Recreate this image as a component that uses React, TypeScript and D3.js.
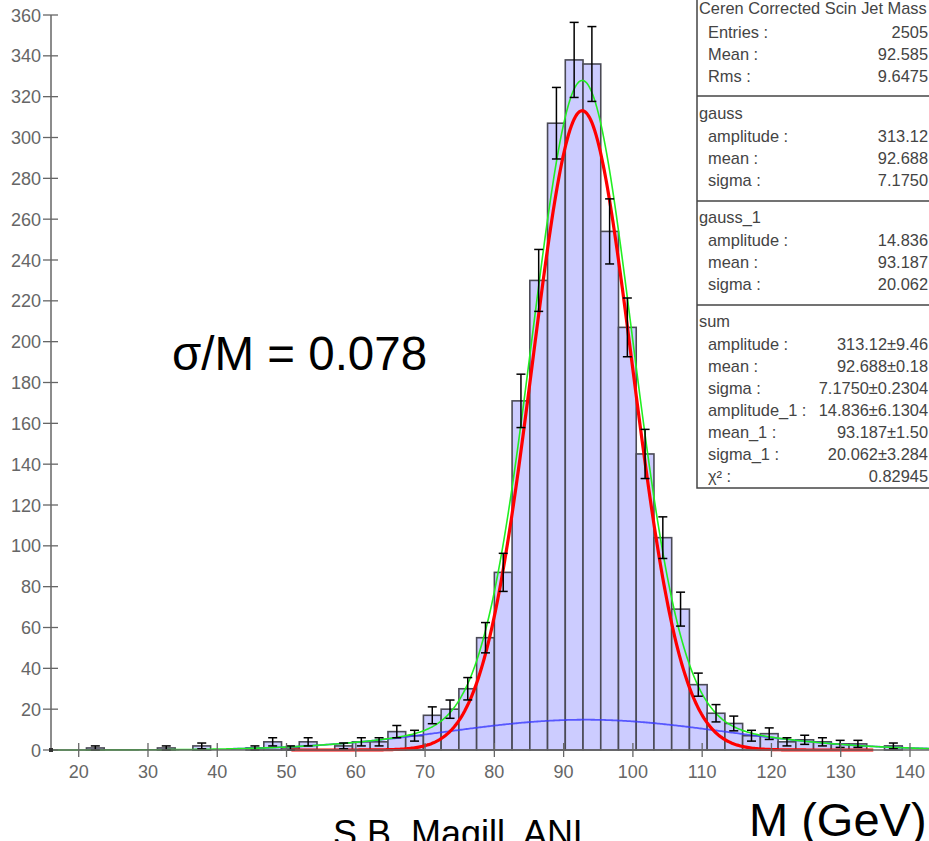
import React from "react";
import * as d3 from "d3";

const binLow = 16;
const binWidth = 2.56;
const counts = [
  0, 0, 1, 0, 0, 0, 1, 0, 2, 0,
  0, 1, 4, 1, 4, 0, 2, 4, 4, 9,
  7, 17, 20, 30, 55, 87, 171, 230, 307, 338,
  336, 254, 207, 145, 104, 69, 32, 18, 13, 7,
  8, 4, 5, 4, 3, 3, 0, 2, 0, 0,
];
const xTicks = [20, 30, 40, 50, 60, 70, 80, 90, 100, 110, 120, 130, 140];
const yTicks = [0, 20, 40, 60, 80, 100, 120, 140, 160, 180, 200, 220, 240, 260, 280, 300, 320, 340, 360];

// fit parameters (amplitude, mean, sigma)
const gaussParams = [313.12, 92.688, 7.175];
const gauss1Params = [14.836, 93.187, 20.062];
const redRange = [50.7, 134.7];
const blueRange = [42, 144];
const greenRange = [16, 144];

const statsTitle = "Ceren Corrected Scin Jet Mass";
const statsLabels1 = ["Entries :", "Mean :", "Rms :"];
const statsValues1 = ["2505", "92.585", "9.6475"];
const gaussLabels = ["amplitude :", "mean :", "sigma :"];
const gaussValues = ["313.12", "92.688", "7.1750"];
const gauss1Values = ["14.836", "93.187", "20.062"];
const sumLabels = ["amplitude :", "mean :", "sigma :", "amplitude_1 :", "mean_1 :", "sigma_1 :", "χ² :"];
const sumValues = ["313.12±9.46", "92.688±0.18", "7.1750±0.2304", "14.836±6.1304", "93.187±1.50", "20.062±3.284", "0.82945"];

const W = 929;
const H = 841;
const FONT = "'Liberation Sans', Arial, sans-serif";
const BOXFONT = 16.4;

function g(p: number[], x: number) {
  return p[0] * Math.exp(-((x - p[1]) ** 2) / (2 * p[2] * p[2]));
}

export default function App() {
  const x = d3.scaleLinear().domain([16, 144]).range([51, 937.7]);
  const y = d3.scaleLinear().domain([0, 360]).range([750, 15]);

  const sample = (r: number[], f: (v: number) => number) =>
    d3.range(r[0], r[1] + 0.001, 0.2).map((v) => [v, f(v)] as [number, number]);
  const line = d3
    .line<[number, number]>()
    .x((d) => x(d[0]))
    .y((d) => y(d[1]))
    .curve(d3.curveLinear);

  const red = line(sample(redRange, (v) => g(gaussParams, v))) || "";
  const blue = line(sample(blueRange, (v) => g(gauss1Params, v))) || "";
  const green = line(sample(greenRange, (v) => g(gaussParams, v) + g(gauss1Params, v))) || "";

  const bins = counts.map((c, i) => {
    const x0 = binLow + i * binWidth;
    return { x0, x1: x0 + binWidth, c };
  });

  const boxX = 697;
  const labelX = 708;
  const valueX = 928;
  const rowH = 22;

  const statRow = (label: string, value: string, yy: number, key: string) => (
    <g key={key}>
      <text x={labelX} y={yy} fontSize={BOXFONT} fill="#444" fontFamily={FONT}>{label}</text>
      <text x={valueX} y={yy} fontSize={BOXFONT} fill="#444" fontFamily={FONT} textAnchor="end">{value}</text>
    </g>
  );

  return (
    <svg width={W} height={H} style={{ position: "absolute", left: 0, top: 0, background: "#fff" }}>
      {/* bars */}
      {bins.map((b, i) =>
        b.c > 0 ? (
          <rect
            key={"b" + i}
            x={x(b.x0)}
            y={y(b.c)}
            width={x(b.x1) - x(b.x0)}
            height={y(0) - y(b.c)}
            fill="#ccccff"
            stroke="#4a4a55"
            strokeWidth={1.6}
          />
        ) : null
      )}
      {/* curves */}
      <path d={blue} fill="none" stroke="#3a3aff" strokeWidth={1.8} opacity={0.8} />
      <path d={red} fill="none" stroke="#ff0000" strokeWidth={3.2} />
      <path d={green} fill="none" stroke="#22ee22" strokeWidth={1.6} />
      {/* error bars */}
      {bins.map((b, i) => {
        if (b.c <= 0) return null;
        const e = Math.sqrt(b.c);
        const cx = x((b.x0 + b.x1) / 2);
        return (
          <g key={"e" + i} stroke="#000" strokeWidth={1.5}>
            <line x1={cx} x2={cx} y1={y(b.c + e)} y2={y(Math.max(0, b.c - e))} />
            <line x1={cx - 4.5} x2={cx + 4.5} y1={y(b.c + e)} y2={y(b.c + e)} />
            <line x1={cx - 4.5} x2={cx + 4.5} y1={y(Math.max(0, b.c - e))} y2={y(Math.max(0, b.c - e))} />
          </g>
        );
      })}
      {/* y axis */}
      <line x1={51} x2={51} y1={y(360)} y2={y(0)} stroke="#666" strokeWidth={1.5} />
      {yTicks.map((t) => (
        <g key={"y" + t}>
          <line x1={43} x2={58} y1={y(t)} y2={y(t)} stroke="#666" strokeWidth={1.3} />
          <text x={41} y={y(t) + 6.5} textAnchor="end" fontSize={18} fill="#666" fontFamily={FONT}>{t}</text>
        </g>
      ))}
      {/* x axis */}
      <line x1={51} x2={W} y1={y(0)} y2={y(0)} stroke="#666" strokeWidth={1.5} />
      {xTicks.map((t) => (
        <g key={"x" + t}>
          <line x1={x(t)} x2={x(t)} y1={743} y2={757} stroke="#666" strokeWidth={1.3} />
          <text x={x(t)} y={778} textAnchor="middle" fontSize={18} fill="#666" fontFamily={FONT}>{t}</text>
        </g>
      ))}
      <rect x={49} y={748} width={4} height={4} fill="#333" />

      {/* annotations */}
      <text x={172} y={370} fontSize={47.5} fill="#000" fontFamily={FONT}>σ/M = 0.078</text>
      <text x={749} y={836} fontSize={47} fill="#000" fontFamily={FONT}>M (GeV)</text>
      <text x={333} y={846} fontSize={36} fill="#000" fontFamily={FONT}>S.B. Magill, ANL</text>

      {/* stats box */}
      <rect x={boxX} y={-2} width={240} height={490} fill="#fff" stroke="#444" strokeWidth={1.5} />
      <line x1={boxX} x2={W} y1={96} y2={96} stroke="#444" strokeWidth={1.5} />
      <line x1={boxX} x2={W} y1={201} y2={201} stroke="#444" strokeWidth={1.5} />
      <line x1={boxX} x2={W} y1={305} y2={305} stroke="#444" strokeWidth={1.5} />
      <text x={699} y={14} fontSize={BOXFONT} fill="#444" fontFamily={FONT}>{statsTitle}</text>
      {statsLabels1.map((l, i) => statRow(l, statsValues1[i], 38 + i * rowH, "s1" + i))}
      <text x={699} y={119} fontSize={BOXFONT} fill="#444" fontFamily={FONT}>gauss</text>
      {gaussLabels.map((l, i) => statRow(l, gaussValues[i], 142 + i * rowH, "g" + i))}
      <text x={699} y={223} fontSize={BOXFONT} fill="#444" fontFamily={FONT}>gauss_1</text>
      {gaussLabels.map((l, i) => statRow(l, gauss1Values[i], 246 + i * rowH, "g1" + i))}
      <text x={699} y={327} fontSize={BOXFONT} fill="#444" fontFamily={FONT}>sum</text>
      {sumLabels.map((l, i) => statRow(l, sumValues[i], 350 + i * rowH, "sm" + i))}
    </svg>
  );
}
